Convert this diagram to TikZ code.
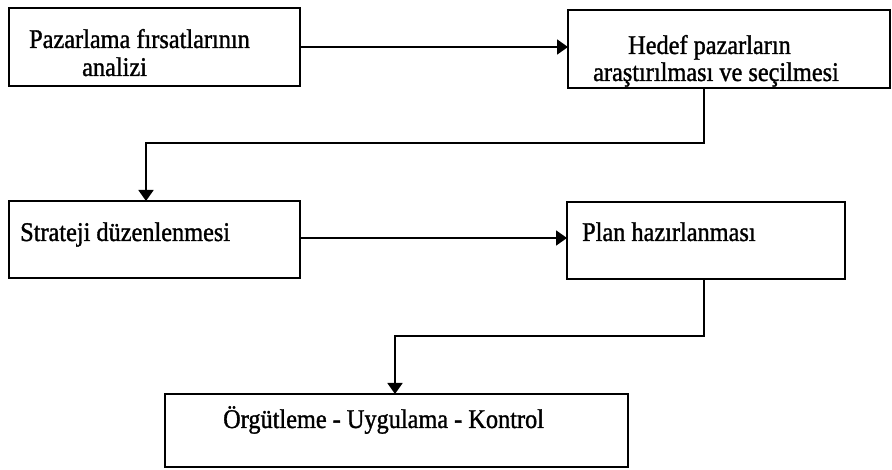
\documentclass[tikz,border=0pt]{standalone}
\usepackage{fontspec}
\setmainfont{Liberation Serif}[FakeStretch=0.9, FakeBold=1.2]
\usetikzlibrary{arrows.meta}
\begin{document}
\begin{tikzpicture}[x=1pt,y=-1pt,
  box/.style={draw=black, line width=1.9pt, rectangle, inner sep=0pt, outer sep=0pt},
  conn/.style={draw=black, line width=1.9pt},
  arr/.style={conn, -{Triangle[length=11pt,width=15pt]}},
  lbl/.style={anchor=base west, inner sep=0pt, font=\fontsize{27}{29}\selectfont}]
  \useasboundingbox (0,0) rectangle (892,470);
  \fill[white] (0,0) rectangle (892,470);

  % boxes
  \node[box, minimum width=291pt, minimum height=78pt] (b1) at (154.5,47) {};
  \node[box, minimum width=322pt, minimum height=78pt] (b2) at (729,49) {};
  \node[box, minimum width=291pt, minimum height=77pt] (b3) at (154.5,239.5) {};
  \node[box, minimum width=278pt, minimum height=77pt] (b4) at (706,240.5) {};
  \node[box, minimum width=463pt, minimum height=73pt] (b5) at (396.5,430.5) {};

  % texts
  \node[lbl] (t1a) at (29,48) {Pazarlama fırsatlarının};
  \node[lbl] (t1b) at (82,76) {analizi};
  \node[lbl] (t2a) at (628,54) {Hedef pazarların};
  \node[lbl] (t2b) at (593,81) {araştırılması ve seçilmesi};
  \node[lbl] (t3) at (20,241) {Strateji düzenlenmesi};
  \node[lbl] (t4) at (582,241) {Plan hazırlanması};
  \node[lbl] (t5) at (223,428) {Örgütleme - Uygulama - Kontrol};

  % connectors
  \draw[arr] (b1.east) -- (b1.east -| b2.west);
  \draw[arr] ([xshift=-25pt]b2.south) -- ++(0,55) -| ([xshift=-8.5pt]b3.north);
  \draw[arr] ([yshift=1.5pt]b3.east) -- ([yshift=1.5pt]b3.east -| b4.west);
  \draw[arr] ([xshift=-2pt]b4.south) -- ++(0,57) -| ([xshift=-1.5pt]b5.north);
\end{tikzpicture}
\end{document}
